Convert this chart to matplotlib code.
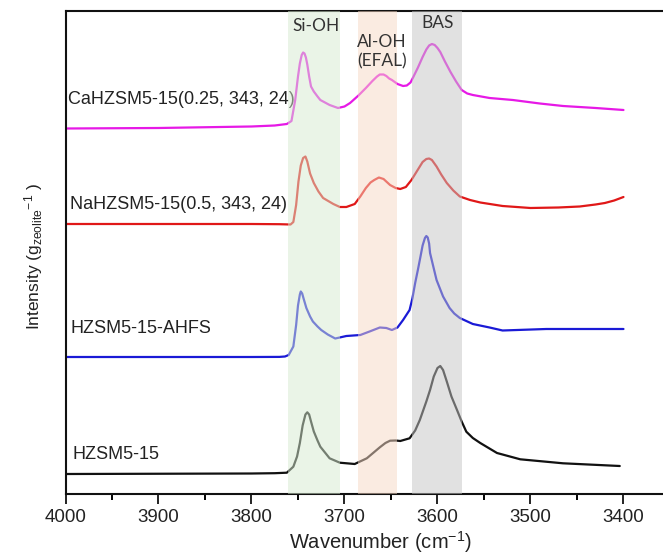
import matplotlib
matplotlib.use("Agg")
import matplotlib.pyplot as plt
from matplotlib.ticker import MultipleLocator

# ── Data ─────────────────────────────────────────────────────────────────────
ca_wn = [4000, 3900, 3800, 3775, 3762, 3757, 3753, 3750, 3748, 3746, 3744.5, 3743, 3741.5,
         3740, 3738, 3736, 3733, 3729, 3726, 3716, 3707, 3700, 3694, 3685, 3677, 3670,
         3665, 3662, 3658, 3655, 3652, 3649, 3643, 3637, 3633, 3629, 3626, 3621, 3616,
         3612, 3609, 3606, 3603, 3600, 3597, 3592, 3586, 3580, 3574, 3568, 3562, 3544,
         3519, 3490, 3465, 3430, 3400]
ca_int = [3.65, 3.655, 3.67, 3.68, 3.695, 3.725, 3.935, 4.17, 4.30, 4.385, 4.41, 4.40, 4.36,
          4.29, 4.17, 4.07, 4.02, 3.97, 3.935, 3.885, 3.855, 3.87, 3.905, 3.98, 4.055, 4.125,
          4.17, 4.19, 4.19, 4.175, 4.15, 4.135, 4.095, 4.075, 4.08, 4.11, 4.165, 4.26, 4.365,
          4.44, 4.48, 4.495, 4.485, 4.455, 4.415, 4.32, 4.215, 4.12, 4.035, 4.0, 3.985, 3.955,
          3.935, 3.90, 3.875, 3.855, 3.835]

na_wn = [4000, 3800, 3770, 3758, 3755, 3752, 3749.5, 3747, 3744.5, 3742, 3740, 3737, 3733,
         3728, 3723, 3712, 3705, 3698, 3689, 3683, 3677, 3672, 3668, 3663, 3658, 3651,
         3645, 3640, 3634, 3628, 3620, 3616, 3612, 3609, 3606, 3601, 3596, 3590, 3583,
         3576, 3565, 3554, 3530, 3500, 3470, 3447, 3430, 3420, 3410, 3400]
na_int = [2.695, 2.695, 2.693, 2.69, 2.715, 2.885, 3.12, 3.28, 3.355, 3.37, 3.32, 3.20, 3.105,
          3.02, 2.955, 2.895, 2.865, 2.865, 2.895, 2.97, 3.055, 3.11, 3.135, 3.16, 3.145, 3.085,
          3.055, 3.045, 3.065, 3.135, 3.255, 3.315, 3.345, 3.35, 3.335, 3.27, 3.19, 3.105, 3.03,
          2.97, 2.935, 2.91, 2.875, 2.855, 2.86, 2.87, 2.89, 2.905, 2.93, 2.965]

ahfs_wn = [4000, 3800, 3770, 3764, 3760, 3755, 3752, 3750, 3748, 3747, 3745.5, 3744, 3741,
           3737, 3734, 3729, 3725, 3718, 3710, 3698, 3683, 3673, 3662, 3655, 3649, 3643,
           3637, 3630, 3627, 3624, 3621, 3619, 3616, 3613.5, 3612, 3610.5, 3609, 3608,
           3604, 3601, 3594, 3587, 3582, 3576, 3562, 3544, 3530, 3483, 3400]
ahfs_int = [1.365, 1.365, 1.366, 1.37, 1.385, 1.47, 1.685, 1.88, 1.99, 2.02, 2.0, 1.95, 1.855,
            1.77, 1.72, 1.67, 1.635, 1.59, 1.55, 1.575, 1.585, 1.62, 1.66, 1.655, 1.635, 1.66,
            1.735, 1.835, 1.95, 2.105, 2.24, 2.335, 2.48, 2.555, 2.575, 2.56, 2.50, 2.405,
            2.25, 2.135, 1.97, 1.855, 1.80, 1.755, 1.695, 1.66, 1.63, 1.645, 1.645]

h_wn = [4000, 3800, 3775, 3762, 3755, 3751, 3748, 3745, 3742, 3740, 3738, 3736, 3733,
        3729, 3726, 3721, 3716, 3705, 3689, 3676, 3662, 3656, 3651, 3645, 3640, 3630,
        3624, 3619, 3612, 3608, 3604, 3600, 3597, 3594, 3590, 3585, 3579, 3574, 3569,
        3562, 3554, 3536, 3511, 3465, 3404]
h_int = [0.195, 0.2, 0.203, 0.208, 0.268, 0.37, 0.505, 0.68, 0.79, 0.812, 0.79, 0.72, 0.62,
         0.53, 0.468, 0.41, 0.352, 0.308, 0.295, 0.352, 0.462, 0.505, 0.528, 0.53, 0.525, 0.552,
         0.63, 0.735, 0.92, 1.035, 1.17, 1.255, 1.275, 1.235, 1.12, 0.97, 0.835, 0.72, 0.618,
         0.555, 0.505, 0.405, 0.342, 0.302, 0.275]

series = [
    ("CaHZSM5-15(0.25, 343, 24)", ca_wn, ca_int, "#e619e6"),
    ("NaHZSM5-15(0.5, 343, 24)", na_wn, na_int, "#e01818"),
    ("HZSM5-15-AHFS", ahfs_wn, ahfs_int, "#1a1ad6"),
    ("HZSM5-15", h_wn, h_int, "#111111"),
]

# band ranges (cm-1) and labels
bands = [
    ("Si-OH", 3761, 3705, "#d7ebd1"),
    ("Al-OH\n(EFAL)", 3685, 3643, "#f7d9c5"),
    ("BAS", 3627, 3574, "#c5c5c5"),
]

# ── Plot ─────────────────────────────────────────────────────────────────────
plt.rcParams["font.family"] = ["Liberation Sans", "DejaVu Sans"]
plt.rcParams["mathtext.fontset"] = "custom"
plt.rcParams["mathtext.rm"] = "Liberation Sans"
plt.rcParams["mathtext.default"] = "regular"

fig = plt.figure(figsize=(6.63, 5.57), dpi=100)
ax = fig.add_axes([0.0988, 0.114, 0.9012, 0.8668])

for name, wn, inten, col in series:
    ax.plot(wn, inten, color=col, lw=1.6, zorder=2,
            solid_joinstyle="round", solid_capstyle="round")

label_pos = [(3997, 3.935), (3995, 2.885), (3995, 1.645), (3992.5, 0.395)]
for (name, _, _, _), (lx, ly) in zip(series, label_pos):
    ax.text(lx, ly, name, fontsize=13, color="#222222", ha="left", va="center", zorder=1)

# shaded bands sit on top of the curves, semi-transparent
for lab, hi, lo, col in bands:
    ax.axvspan(lo, hi, color=col, alpha=0.5, lw=0, zorder=3)

band_text = [(3730.5, 4.67), (3660, 4.42), (3600, 4.70)]
for (lab, _, _, _), (tx, ty) in zip(bands, band_text):
    ax.text(tx, ty, lab, fontsize=12.5, family="Lato", color="#333333",
            ha="center", va="center", linespacing=1.25, zorder=4)

ax.set_xlim(4000, 3357.5)
ax.set_ylim(0, 4.828)
ax.xaxis.set_major_locator(MultipleLocator(100))
ax.xaxis.set_minor_locator(MultipleLocator(50))
ax.tick_params(axis="x", which="major", direction="out", length=7, width=1.4,
               labelsize=13.5, pad=4, colors="#222222")
ax.tick_params(axis="x", which="minor", direction="out", length=4, width=1.4)
ax.tick_params(axis="y", left=False, labelleft=False)
ax.spines["right"].set_visible(False)
for s in ("left", "top", "bottom"):
    ax.spines[s].set_linewidth(1.5)
    ax.spines[s].set_color("#111111")

ax.set_xlabel(r"Wavenumber (cm$^{-1}$)", fontsize=14.5, color="#222222")
ax.xaxis.set_label_coords(0.528, -0.074)
ax.set_ylabel(r"Intensity (g$_{zeolite}$$^{-1}$ )", fontsize=12.5, color="#222222")
ax.yaxis.set_label_coords(-0.035, 0.49)

fig.savefig("out.png", dpi=100, facecolor="white")
